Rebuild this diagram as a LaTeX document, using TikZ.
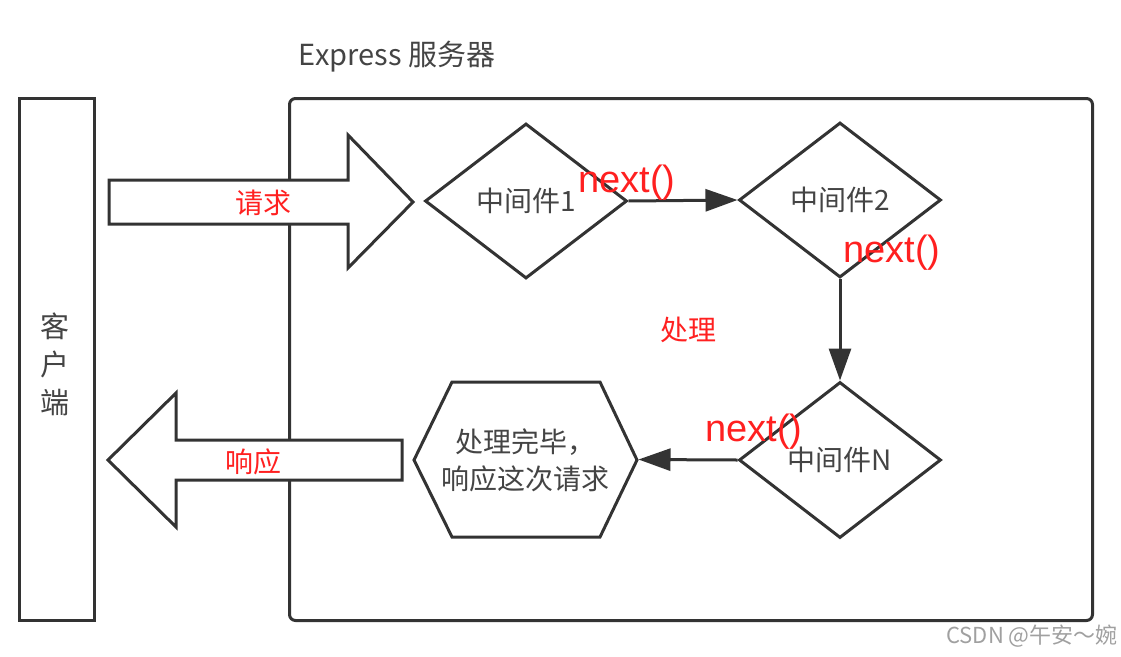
\documentclass[tikz,border=0pt]{standalone}
\usepackage{fontspec}
\setmainfont{Noto Sans CJK SC}
\newfontfamily\arialf{Liberation Sans}
\usetikzlibrary{shapes.geometric,arrows.meta}
\definecolor{ln}{HTML}{333333}
\definecolor{tx}{HTML}{444444}
\definecolor{rd}{HTML}{FF2020}
\definecolor{wm}{HTML}{A0A0A0}
\begin{document}
\begin{tikzpicture}[x=1pt,y=-1pt,
 box/.style={draw=ln,line width=3pt,fill=white,inner sep=0pt},
 dia/.style={diamond,draw=ln,line width=3pt,minimum width=202pt,minimum height=155pt,inner sep=0pt,font=\fontsize{28}{32}\selectfont,text=tx},
 nxt/.style={text=rd,font=\arialf\fontsize{38}{38}\selectfont,inner sep=0pt},
 lbl/.style={text=rd,font=\fontsize{28}{32}\selectfont,inner sep=0pt},
 plain/.style={text=tx,font=\fontsize{28}{37}\selectfont,inner sep=0pt,align=center},
 conn/.style={draw=ln,line width=3pt,-{Triangle[length=32pt,width=22pt]}},
 blk/.style={draw=ln,line width=3pt,fill=white,line join=miter},
]
\useasboundingbox (0,0) rectangle (1121,656);
% boxes
\node[box,anchor=north west,minimum width=803pt,minimum height=522pt,rounded corners=6pt] (server) at (288,97) {};
\node[box,anchor=north west,minimum width=75pt,minimum height=522pt] (client) at (18,97) {};
\node[plain,font=\fontsize{29}{38}\selectfont] (clientlbl) at (55,364) {客\\户\\端};
\node[text=tx,font=\fontsize{29}{34}\selectfont,inner sep=0pt] (title) at (397,57) {Express 服务器};
% block arrows
\draw[blk] (109,180) -- (348,180) -- (348,135) -- (413,202) -- (348,268) -- (348,224) -- (109,224) -- cycle;
\node[lbl] (req) at (263,203) {请求};
\draw[blk] (108,460) -- (176,393) -- (176,440) -- (402,440) -- (402,480) -- (176,480) -- (176,527) -- cycle;
\node[lbl] (resp) at (253,462) {响应};
% diamonds
\node[dia] (d1) at (526,201) {中间件1};
\node[dia] (d2) at (840,200) {中间件2};
\node[dia,minimum height=156pt] (dN) at (840,460) {中间件N};
% hexagon
\node[inner sep=0pt,outer sep=1.5pt,minimum width=223pt,minimum height=155pt] (hex) at (525.5,459.5) {};
\draw[blk] (414,460) -- (452,382) -- (600,382) -- (637,460) -- (600,537) -- (452,537) -- cycle;
\node[plain] (hextxt) at (525,460) {处理完毕，\\响应这次请求};
% connectors
\draw[conn] (d1.east) -- (d2.west);
\draw[conn] (d2.south) -- (dN.north);
\draw[conn] (dN.west) -- (hex.east);
% labels
\node[nxt] (n1) at (627,183) {next()};
\node[nxt] (n2) at (892,253) {next()};
\node[nxt] (n3) at (754,432) {next()};
\node[lbl] (proc) at (688,330) {处理};
\node[text=wm,font=\fontsize{22}{26}\selectfont,inner sep=0pt] (wmk) at (1032,636) {CSDN @午安～婉};
\end{tikzpicture}
\end{document}
